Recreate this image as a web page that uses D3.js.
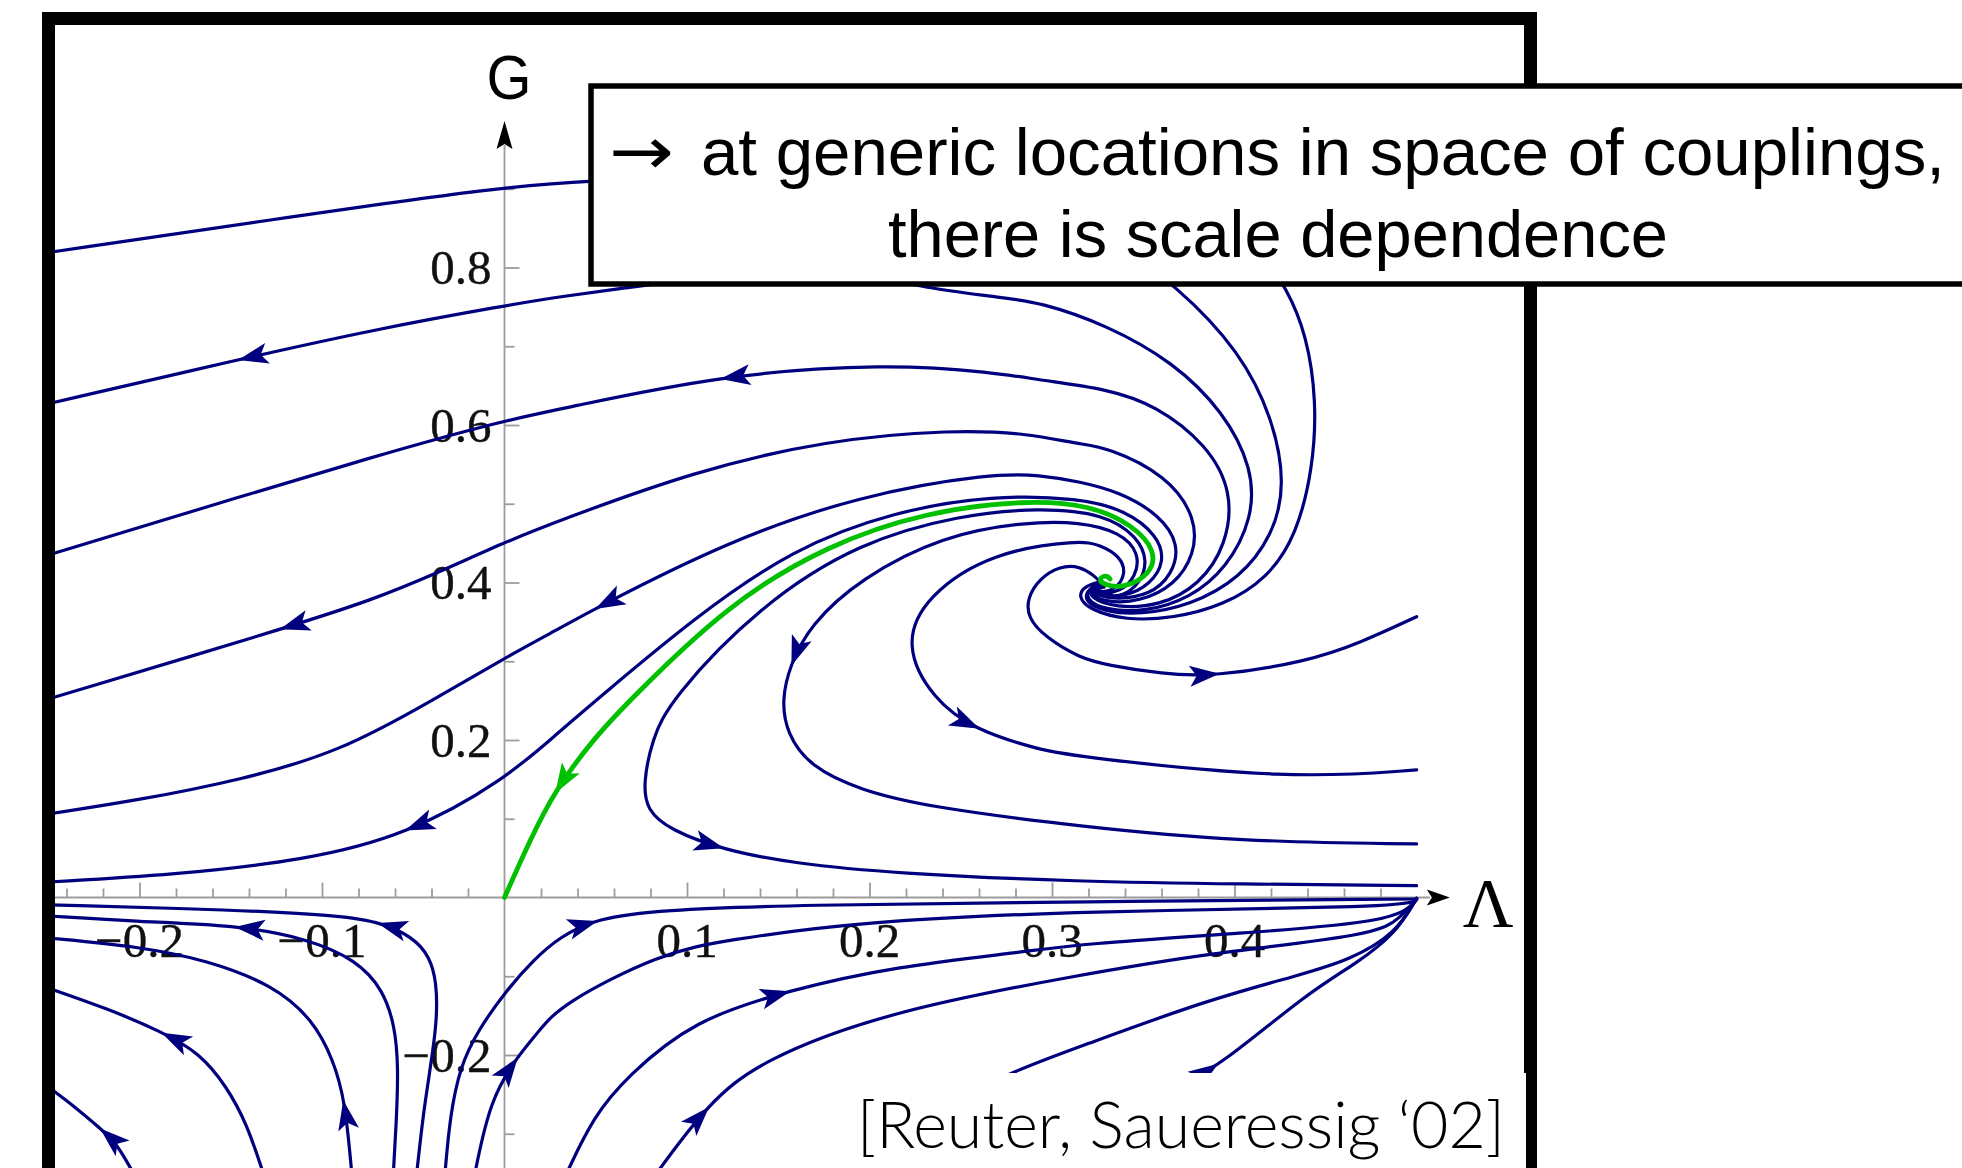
<!DOCTYPE html>
<html>
<head>
<meta charset="utf-8">
<script src="https://cdn.jsdelivr.net/npm/d3@7"></script>
<style>
  html, body { margin: 0; padding: 0; background: #ffffff; }
  svg { display: block; }
</style>
</head>
<body>
<svg id="chart" width="1962" height="1168"></svg>
<script>
// ---------------------------------------------------------------
// RG flow of the Einstein–Hilbert truncation in the (Λ, G) plane.
// Each streamline is a list of [Λ, G] points along the trajectory.
// ---------------------------------------------------------------

// Upper family (G > 0): listed from the left edge toward the spiral
const lineA = [[-0.25,0.819],[-0.13,0.860],[0,0.903],[0.046,0.910],[0.107,0.915],[0.162,0.915],[0.244,0.898],[0.326,0.848],[0.370,0.774],[0.403,0.693],[0.421,0.609],[0.428,0.524],[0.421,0.460],[0.403,0.405],[0.376,0.371],[0.348,0.359],[0.329,0.363],[0.318,0.375],[0.319,0.390],[0.325,0.398]];
const lineTop = [[0.381,0.886],[0.414,0.822],[0.4286,0.774],[0.4396,0.714],[0.445,0.630],[0.443,0.545],[0.434,0.460],[0.418,0.405],[0.394,0.371],[0.3665,0.3545],[0.340,0.352],[0.321,0.365],[0.314,0.382],[0.318,0.396],[0.327,0.401]];
const lineB = [[-0.25,0.627],[-0.146,0.683],[-0.072,0.721],[0,0.7515],[0.0304,0.763],[0.0649,0.7736],[0.1071,0.787],[0.1619,0.794],[0.2058,0.789],[0.2313,0.7736],[0.2715,0.762],[0.2934,0.756],[0.330,0.727],[0.3665,0.680],[0.394,0.617],[0.410,0.545],[0.410,0.4815],[0.3957,0.418],[0.3756,0.380],[0.351,0.3625],[0.329,0.365],[0.3186,0.378],[0.320,0.392],[0.327,0.400]];
const lineC = [[-0.25,0.435],[-0.163,0.496],[-0.072,0.560],[0,0.606],[0.0304,0.620],[0.118,0.6635],[0.2094,0.678],[0.2678,0.667],[0.2934,0.657],[0.330,0.646],[0.357,0.625],[0.385,0.575],[0.399,0.515],[0.3957,0.448],[0.381,0.397],[0.359,0.370],[0.3345,0.368],[0.321,0.380],[0.321,0.393],[0.327,0.399]];
const lineD = [[-0.25,0.252],[-0.123,0.340],[-0.072,0.378],[-0.0353,0.4137],[0,0.451],[0.0304,0.479],[0.1035,0.541],[0.1765,0.581],[0.246,0.594],[0.286,0.5895],[0.3153,0.5755],[0.330,0.572],[0.3628,0.5365],[0.3793,0.4815],[0.378,0.435],[0.3674,0.397],[0.348,0.375],[0.329,0.375],[0.321,0.3854],[0.3233,0.3956],[0.328,0.398]];
const lineE = [[-0.25,0.106],[-0.1997,0.124],[-0.145,0.149],[-0.090,0.185],[-0.039,0.251],[0,0.304],[0.0304,0.342],[0.0496,0.367],[0.1218,0.452],[0.1948,0.511],[0.2678,0.5387],[0.2934,0.5365],[0.3153,0.528],[0.337,0.515],[0.359,0.486],[0.370,0.448],[0.3658,0.4095],[0.3537,0.384],[0.3345,0.378],[0.3236,0.3854],[0.3236,0.394],[0.3285,0.3956]];
const lineF = [[-0.25,0.0197],[-0.1815,0.0286],[-0.1084,0.0476],[-0.0536,0.0794],[0,0.149],[0.0304,0.2114],[0.0505,0.251],[0.1035,0.3545],[0.1582,0.4434],[0.213,0.490],[0.2678,0.511],[0.3153,0.507],[0.340,0.492],[0.358,0.460],[0.3619,0.426],[0.3537,0.397],[0.340,0.3816],[0.3263,0.384],[0.3236,0.3917],[0.3285,0.394]];

// Separatrix from the non-Gaussian fixed point to the Gaussian one (listed from the origin)
const lineGreen = [[0,0],[0.014,0.073],[0.0277,0.1365],[0.0496,0.2038],[0.0688,0.251],[0.1218,0.3714],[0.1765,0.4476],[0.2313,0.490],[0.286,0.5048],[0.3208,0.4984],[0.3445,0.473],[0.3574,0.439],[0.3537,0.4095],[0.339,0.3926],[0.328,0.397],[0.3254,0.4053],[0.33,0.4095],[0.3318,0.4044]];

// Lines leaving the spiral toward Λ = 1/2 (listed from the fixed point)
const lineG = [[0.3263,0.400],[0.3214,0.389],[0.3274,0.381],[0.3384,0.382],[0.348,0.398],[0.3526,0.427],[0.347,0.4578],[0.329,0.487],[0.2934,0.495],[0.2496,0.4857],[0.1948,0.4518],[0.14,0.3714],[0.0907,0.251],[0.0808,0.200],[0.076,0.145],[0.0779,0.111],[0.0907,0.0857],[0.12,0.0603],[0.1582,0.0434],[0.213,0.0307],[0.3153,0.020],[0.403,0.0171],[0.4998,0.015]];
const lineH = [[0.3263,0.400],[0.3225,0.3937],[0.3263,0.386],[0.3373,0.388],[0.346,0.407],[0.348,0.4375],[0.3373,0.464],[0.3153,0.477],[0.286,0.477],[0.2404,0.460],[0.1948,0.405],[0.1674,0.346],[0.1564,0.295],[0.1519,0.251],[0.1546,0.2085],[0.1674,0.166],[0.1948,0.1365],[0.2313,0.1153],[0.3153,0.090],[0.403,0.0709],[0.4998,0.068]];
const lineI = [[0.3268,0.3994],[0.3225,0.3937],[0.3263,0.387],[0.3345,0.3905],[0.3408,0.4108],[0.3373,0.4336],[0.3263,0.4476],[0.3153,0.454],[0.2678,0.439],[0.2313,0.384],[0.2185,0.3206],[0.235,0.251],[0.2578,0.2127],[0.2934,0.1873],[0.3153,0.1784],[0.4304,0.150],[0.4998,0.162]];
const lineJ = [[0.3268,0.3994],[0.3236,0.408],[0.3153,0.421],[0.3044,0.421],[0.2934,0.4057],[0.2863,0.380],[0.2868,0.355],[0.2962,0.3308],[0.3153,0.304],[0.330,0.2953],[0.3603,0.2838],[0.3884,0.2804],[0.4396,0.2994],[0.4688,0.3232],[0.4998,0.3566]];

// Negative-G lines left of the G axis (listed from the bottom)
const lineK1 = [[-0.0481,-0.35],[-0.0447,-0.2787],[-0.0419,-0.2356],[-0.0392,-0.1937],[-0.037,-0.1517],[-0.0372,-0.1086],[-0.0408,-0.0756],[-0.0501,-0.0502],[-0.0693,-0.0298],[-0.0956,-0.0222],[-0.145,-0.0159],[-0.25,-0.0093]];
const lineK2 = [[-0.0609,-0.35],[-0.0591,-0.2783],[-0.0582,-0.2149],[-0.06,-0.164],[-0.0664,-0.1175],[-0.081,-0.0794],[-0.1084,-0.0518],[-0.1477,-0.0349],[-0.1997,-0.0307],[-0.25,-0.0235]];
const lineK3 = [[-0.0837,-0.35],[-0.0874,-0.2571],[-0.0938,-0.2063],[-0.1048,-0.1556],[-0.1267,-0.1111],[-0.1632,-0.0794],[-0.1997,-0.0625],[-0.25,-0.0514]];
const lineK4 = [[-0.1322,-0.35],[-0.1413,-0.2867],[-0.1522,-0.2403],[-0.1668,-0.1978],[-0.1878,-0.1704],[-0.218,-0.1407],[-0.25,-0.115]];
const lineK5 = [[-0.2034,-0.35],[-0.2125,-0.3121],[-0.2216,-0.2931],[-0.2353,-0.266],[-0.25,-0.2406]];

// Negative-G lines right of the G axis, converging at (1/2, 0) (listed from the bottom)
const lineM0 = [[-0.0326,-0.35],[-0.0299,-0.2783],[-0.0244,-0.2149],[-0.0145,-0.1683],[0.0012,-0.1175],[0.0158,-0.0794],[0.0304,-0.0498],[0.0505,-0.0264],[0.0852,-0.0159],[0.1582,-0.0095],[0.3153,-0.0053],[0.4998,-0.0019]];
const lineM1 = [[-0.0162,-0.35],[-0.0079,-0.2571],[0.0068,-0.2025],[0.0195,-0.1683],[0.0304,-0.1365],[0.0852,-0.0709],[0.1218,-0.054],[0.1948,-0.0307],[0.3153,-0.0171],[0.4923,-0.0124],[0.4998,-0.0025]];
const lineM2 = [[0.0341,-0.35],[0.0487,-0.2783],[0.067,-0.2276],[0.1035,-0.1556],[0.1564,-0.1175],[0.213,-0.0879],[0.2861,-0.0688],[0.3153,-0.059],[0.403,-0.0455],[0.4885,-0.0307],[0.4998,-0.0032]];
const lineM3 = [[0.0834,-0.35],[0.1108,-0.2635],[0.14,-0.2063],[0.213,-0.1429],[0.3153,-0.0984],[0.3848,-0.0709],[0.4779,-0.0476],[0.4907,-0.026],[0.4998,-0.0019]];
const lineM4 = [[0.2386,-0.2698],[0.2752,-0.2232],[0.3153,-0.1895],[0.3848,-0.1302],[0.4359,-0.0984],[0.4633,-0.0794],[0.4885,-0.0455],[0.4998,-0.001]];
const lineM5 = [[0.3701,-0.2381],[0.392,-0.214],[0.4396,-0.1217],[0.467,-0.0836],[0.4885,-0.0455],[0.4998,-0.001]];

// Flow-direction arrowheads: [line id, Λ, G]
const arrowMarks = [
  ["B",-0.146,0.683],["C",0.118,0.6635],["D",-0.123,0.340],["E",0.0496,0.367],
  ["F",-0.0536,0.0794],["green",0.0293,0.130],["G",0.12,0.0603],["H",0.1564,0.295],
  ["I",0.2594,0.210],["J",0.392,0.2804],
  ["K1",-0.0693,-0.0298],["K2",-0.1477,-0.0349],["K3",-0.0874,-0.2571],
  ["K4",-0.1878,-0.1704],["K5",-0.2216,-0.2931],
  ["M0",0.0505,-0.0264],["M1",0.0068,-0.2025],["M2",0.1564,-0.1175],
  ["M3",0.1108,-0.2635],["M5",0.392,-0.214]
];

// Axis ticks and labels
const lamMajor = [-0.2,-0.1,0.1,0.2,0.3,0.4];
const lamMinor = [-0.24,-0.22,-0.18,-0.16,-0.14,-0.12,-0.08,-0.06,-0.04,-0.02,0.02,0.04,0.06,0.08,0.12,0.14,0.16,0.18,0.22,0.24,0.26,0.28,0.32,0.34,0.36,0.38,0.42,0.44,0.46,0.48];
const lamLabels = ["\u22120.2","\u22120.1","0.1","0.2","0.3","0.4"];
const gMajor = [-0.2,0.2,0.4,0.6,0.8];
const gMinor = [-0.3,-0.1,0.1,0.3,0.5,0.7,0.9];
const gLabelValues = [0.8,0.6,0.4,0.2,-0.2];
const gLabels = ["0.8","0.6","0.4","0.2","\u22120.2"];
const lamAxisEnd = 0.518;
const gAxisEnd = 0.986;

// ---------------------------------------------------------------
const svg = d3.select("#chart");
const x = d3.scaleLinear().domain([0, 0.5]).range([504.5, 1417]);
const y = d3.scaleLinear().domain([0, 0.8]).range([897.5, 267.5]);

const navy = "#00007e";
const green = "#00c000";
const axisGray = "#9c9c9c";

// --- axes ---
const axes = svg.append("g");
axes.append("line")
  .attr("x1", 55).attr("x2", x(lamAxisEnd) - 20)
  .attr("y1", y(0)).attr("y2", y(0))
  .attr("stroke", axisGray).attr("stroke-width", 1.8);
axes.append("line")
  .attr("x1", x(0)).attr("x2", x(0))
  .attr("y1", 1168).attr("y2", y(gAxisEnd) + 24)
  .attr("stroke", axisGray).attr("stroke-width", 1.8);

function styleAxis(g) {
  g.select(".domain").remove();
  g.selectAll(".tick line").attr("stroke", axisGray).attr("stroke-width", 1.8);
  g.selectAll(".tick text").remove();
}
axes.append("g").attr("transform", `translate(0,${y(0)})`)
  .call(d3.axisTop(x).tickValues(lamMajor).tickSize(15).tickFormat("")).call(styleAxis);
axes.append("g").attr("transform", `translate(0,${y(0)})`)
  .call(d3.axisTop(x).tickValues(lamMinor).tickSize(9).tickFormat("")).call(styleAxis);
axes.append("g").attr("transform", `translate(${x(0)},0)`)
  .call(d3.axisRight(y).tickValues(gMajor).tickSize(15).tickFormat("")).call(styleAxis);
axes.append("g").attr("transform", `translate(${x(0)},0)`)
  .call(d3.axisRight(y).tickValues(gMinor).tickSize(10).tickFormat("")).call(styleAxis);

// tick labels
const serif = "'Liberation Serif', 'Times New Roman', Times, serif";
axes.selectAll("text.lam").data(lamMajor).join("text")
  .attr("x", d => x(d)).attr("y", y(0) + 59)
  .attr("text-anchor", "middle")
  .attr("font-family", serif).attr("font-size", 49).attr("fill", "#111")
  .attr("stroke", "#111").attr("stroke-width", 0.4)
  .text((d, i) => lamLabels[i]);
axes.selectAll("text.gl").data(gLabelValues).join("text")
  .attr("x", x(0) - 13).attr("y", d => y(d) + 16.5)
  .attr("text-anchor", "end")
  .attr("font-family", serif).attr("font-size", 49).attr("fill", "#111")
  .attr("stroke", "#111").attr("stroke-width", 0.4)
  .text((d, i) => gLabels[i]);

// axis arrowheads
axes.append("path")
  .attr("d", "M0,0 L-23,-8 L-18,0 L-23,8 Z")
  .attr("transform", `translate(${x(lamAxisEnd)},${y(0)})`)
  .attr("fill", "#000");
axes.append("path")
  .attr("d", "M0,0 L-28,-8 L-23,0 L-28,8 Z")
  .attr("transform", `translate(${x(0)},${y(gAxisEnd)}) rotate(-90)`)
  .attr("fill", "#000");

// axis titles
axes.append("text")
  .attr("x", 509).attr("y", 99)
  .attr("text-anchor", "middle")
  .attr("font-family", "'Liberation Sans', Helvetica, Arial, sans-serif")
  .attr("font-size", 63).attr("fill", "#000")
  .attr("textLength", 45).attr("lengthAdjust", "spacingAndGlyphs")
  .text("G");
axes.append("text")
  .attr("x", x(lamAxisEnd) + 13).attr("y", y(0) + 29)
  .attr("font-family", serif)
  .attr("font-size", 70).attr("fill", "#000")
  .text("\u039B");

// --- streamlines ---
const streamlines = [
  {id: "A", pts: lineA, against: true},
  {id: "Top", pts: lineTop, against: true},
  {id: "B", pts: lineB, against: true},
  {id: "C", pts: lineC, against: true},
  {id: "D", pts: lineD, against: true},
  {id: "E", pts: lineE, against: true},
  {id: "F", pts: lineF, against: true},
  {id: "G", pts: lineG, against: false},
  {id: "H", pts: lineH, against: false},
  {id: "I", pts: lineI, against: false},
  {id: "J", pts: lineJ, against: false},
  {id: "K1", pts: lineK1, against: false},
  {id: "K2", pts: lineK2, against: false},
  {id: "K3", pts: lineK3, against: false},
  {id: "K4", pts: lineK4, against: false},
  {id: "K5", pts: lineK5, against: false},
  {id: "M0", pts: lineM0, against: false},
  {id: "M1", pts: lineM1, against: false},
  {id: "M2", pts: lineM2, against: false},
  {id: "M3", pts: lineM3, against: false},
  {id: "M4", pts: lineM4, against: false},
  {id: "M5", pts: lineM5, against: false},
  {id: "green", pts: lineGreen, against: true, color: green, width: 4.8}
];

const lineGen = d3.line()
  .x(d => x(d[0])).y(d => y(d[1]))
  .curve(d3.curveBasis);

const flow = svg.append("g").attr("fill", "none")
  .attr("stroke-linecap", "round").attr("stroke-linejoin", "round");
const pathNodes = {};
streamlines.forEach(s => {
  const p = flow.append("path")
    .attr("d", lineGen(s.pts))
    .attr("stroke", s.color || navy)
    .attr("stroke-width", s.width || 3.2);
  pathNodes[s.id] = {node: p.node(), spec: s};
});

// arrowheads placed on the drawn paths, oriented along the flow
const arrows = svg.append("g");
arrowMarks.forEach(([id, lam, g]) => {
  const {node, spec} = pathNodes[id];
  const px = x(lam), py = y(g);
  const total = node.getTotalLength();
  let best = 0, bestD = Infinity;
  for (let l = 0; l <= total; l += 0.5) {
    const p = node.getPointAtLength(l);
    const d = (p.x - px) ** 2 + (p.y - py) ** 2;
    if (d < bestD) { bestD = d; best = l; }
  }
  const p0 = node.getPointAtLength(Math.max(0, best - 5));
  const p1 = node.getPointAtLength(Math.min(total, best + 5));
  let ang = Math.atan2(p1.y - p0.y, p1.x - p0.x) * 180 / Math.PI;
  if (spec.against) ang += 180;
  const tip = node.getPointAtLength(best);
  arrows.append("path")
    .attr("d", "M0,0 L-30,-10.5 L-23,0 L-30,10.5 Z")
    .attr("transform", `translate(${tip.x},${tip.y}) rotate(${ang})`)
    .attr("fill", spec.color || navy);
});

// --- outer frame ---
svg.append("rect")
  .attr("x", 48.5).attr("y", 18.5)
  .attr("width", 1482).attr("height", 1400)
  .attr("fill", "none").attr("stroke", "#000").attr("stroke-width", 13);

// --- annotation box ---
const sans = "'Liberation Sans', Helvetica, Arial, sans-serif";
svg.append("rect")
  .attr("x", 591).attr("y", 86)
  .attr("width", 1420).attr("height", 198)
  .attr("fill", "#fff").attr("stroke", "#000").attr("stroke-width", 5.5);
svg.append("text")
  .attr("x", 609).attr("y", 174)
  .attr("font-family", "'DejaVu Sans', sans-serif").attr("font-size", 66).attr("fill", "#000")
  .attr("textLength", 65).attr("lengthAdjust", "spacingAndGlyphs")
  .text("\u2192");
svg.append("text")
  .attr("x", 701).attr("y", 175)
  .attr("font-family", sans).attr("font-size", 66).attr("fill", "#000")
  .attr("textLength", 1244).attr("lengthAdjust", "spacingAndGlyphs")
  .text("at generic locations in space of couplings,");
svg.append("text")
  .attr("x", 888).attr("y", 257)
  .attr("font-family", sans).attr("font-size", 66).attr("fill", "#000")
  .attr("textLength", 780).attr("lengthAdjust", "spacingAndGlyphs")
  .text("there is scale dependence");

// --- citation ---
svg.append("rect")
  .attr("x", 845).attr("y", 1073)
  .attr("width", 681).attr("height", 100)
  .attr("fill", "#fff");
svg.append("text")
  .attr("x", 857).attr("y", 1148)
  .attr("font-family", "Lato, 'Open Sans', sans-serif").attr("font-weight", 300)
  .attr("font-size", 66).attr("fill", "#000")
  .attr("textLength", 648).attr("lengthAdjust", "spacingAndGlyphs")
  .text("[Reuter, Saueressig \u201802]");
</script>
</body>
</html>
